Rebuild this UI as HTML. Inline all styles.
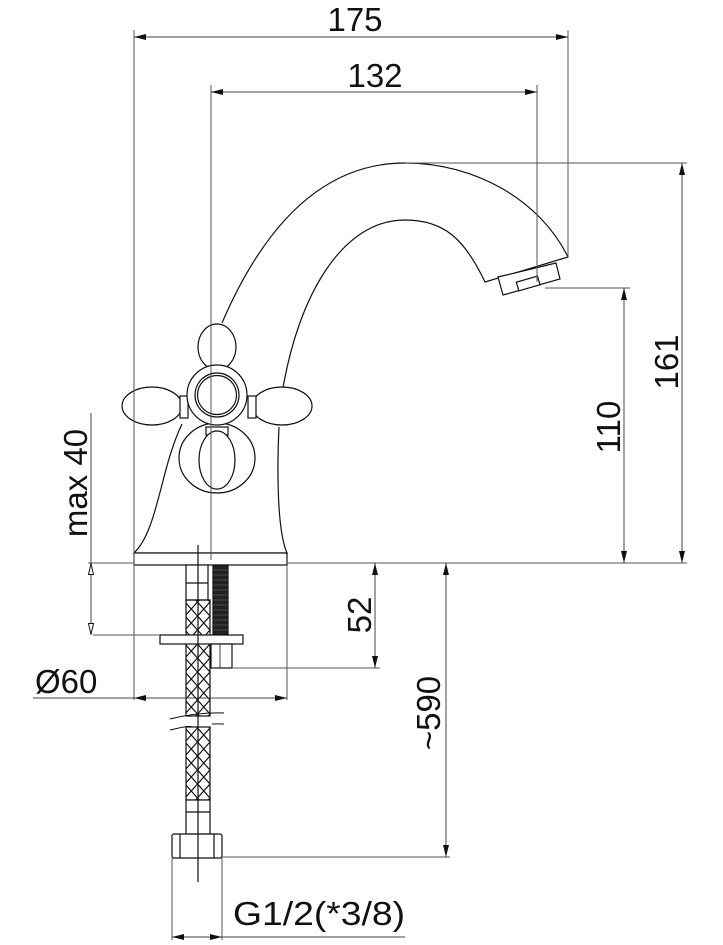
<!DOCTYPE html>
<html><head><meta charset="utf-8"><style>
html,body{margin:0;padding:0;background:#fff}
svg{display:block}
text{font-family:"Liberation Sans",Arial,sans-serif;fill:#111}
</style></head><body>
<svg width="723" height="945" viewBox="0 0 723 945" xmlns="http://www.w3.org/2000/svg">
<defs>
<pattern id="braid" x="185" y="0" width="12.5" height="14" patternUnits="userSpaceOnUse">
<path d="M0 0 L12.5 14 M12.5 0 L0 14" stroke="#111" stroke-width="1.2"/>
</pattern>
<marker id="a" viewBox="0 0 12 6" refX="12" refY="3" markerWidth="12" markerHeight="6" markerUnits="userSpaceOnUse" orient="auto-start-reverse"><path d="M0 0 L12 3 L0 6z" fill="#111"/></marker>
<marker id="o" viewBox="0 0 12 6" refX="12" refY="3" markerWidth="12" markerHeight="6" markerUnits="userSpaceOnUse" orient="auto-start-reverse"><path d="M0.5 0.5 L11.5 3 L0.5 5.5z" fill="#fff" stroke="#111" stroke-width="1"/></marker>
</defs>

<!-- faucet body -->
<g stroke="#111" stroke-width="1.2" fill="#fff">
<path d="M222 323 C262 230 320 163 405 163 C475 163 540 200 568 257 L485 282 C465 240 445 220 405 220 C340 220 298 300 283 388"/>
<path d="M498 277 L503 295 L560 279 L556 263 Z"/>
<rect x="517" y="279" width="22" height="9" transform="rotate(-16 528 283)"/>
<path d="M182 424 C160 470 158 530 134 553 L287 553 C277 530 277 470 279 427"/>
<rect x="134" y="553" width="153" height="12"/>
<ellipse cx="217" cy="458" rx="38" ry="35"/>
<ellipse cx="217" cy="347" rx="19" ry="23"/>
<ellipse cx="152" cy="406" rx="30" ry="19"/>
<ellipse cx="282" cy="406" rx="30" ry="19"/>
<rect x="180" y="396" width="8" height="22"/>
<rect x="248" y="396" width="8" height="22"/>
<rect x="207" y="369" width="22" height="8"/>
<circle cx="217" cy="395" r="30"/>
<circle cx="217" cy="395" r="22"/>
<circle cx="217" cy="395" r="19.5"/>
<rect x="206" y="427" width="22" height="8"/>
<ellipse cx="217" cy="460" rx="18" ry="29"/>
</g>

<!-- hose & fittings -->
<g stroke="#111" stroke-width="1.2">
<rect x="213" y="565" width="15" height="70" fill="#222"/>
<g stroke="#777" stroke-width="0.6">
<path d="M213 570H228M213 575H228M213 580H228M213 585H228M213 590H228M213 595H228M213 600H228M213 605H228M213 610H228M213 615H228M213 620H228M213 625H228M213 630H228"/>
</g>
<rect x="186" y="565" width="22" height="35" fill="#fff"/>
<line x1="186" y1="583" x2="208" y2="583"/>
<rect x="186" y="600" width="24" height="116" fill="url(#braid)"/>
<rect x="186" y="727" width="24" height="73" fill="url(#braid)"/>
<rect x="160" y="635" width="83" height="9" fill="#fff"/>
<rect x="211" y="644" width="21" height="24" fill="#fff"/>
<line x1="220" y1="644" x2="220" y2="668" stroke-width="0.8"/>
<rect x="186" y="800" width="24" height="34" fill="#fff"/>
<line x1="186" y1="812" x2="210" y2="812"/>
<rect x="172" y="834" width="50" height="24" rx="2" fill="#fff"/>
<line x1="180" y1="834" x2="180" y2="858"/>
<line x1="214" y1="834" x2="214" y2="858"/>
<path d="M170 719 Q198 712 224 713" fill="none" stroke-width="1"/>
<path d="M170 730 Q198 723 224 724" fill="none" stroke-width="1"/>
<rect x="184" y="718" width="28" height="8" fill="#fff" stroke="none"/>
</g>

<g stroke="#555" stroke-width="1" fill="none">
<!-- extension lines -->
<line x1="134" y1="30" x2="134" y2="700"/>
<line x1="568" y1="30" x2="568" y2="257"/>
<line x1="211" y1="85" x2="211" y2="560"/>
<line x1="537" y1="85" x2="537" y2="282"/>
<line x1="405" y1="163" x2="687" y2="163"/>
<line x1="545" y1="288" x2="630" y2="288"/>
<line x1="287" y1="563" x2="687" y2="563"/>
<line x1="88" y1="563" x2="134" y2="563"/>
<line x1="93" y1="635" x2="160" y2="635"/>
<line x1="232" y1="668" x2="380" y2="668"/>
<line x1="222" y1="857" x2="450" y2="857"/>
<line x1="287" y1="565" x2="287" y2="700"/>
<line x1="172" y1="858" x2="172" y2="940"/>
<line x1="222" y1="858" x2="222" y2="940"/>
</g>
<g stroke="#444" stroke-width="1" fill="none">
<line x1="134" y1="37" x2="568" y2="37" marker-start="url(#a)" marker-end="url(#a)"/>
<line x1="211" y1="92" x2="537" y2="92" marker-start="url(#a)" marker-end="url(#a)"/>
<line x1="682" y1="163" x2="682" y2="563" marker-start="url(#a)" marker-end="url(#a)"/>
<line x1="624" y1="288" x2="624" y2="563" marker-start="url(#a)" marker-end="url(#a)"/>
<line x1="375" y1="563" x2="375" y2="668" marker-start="url(#a)" marker-end="url(#a)"/>
<line x1="446" y1="563" x2="446" y2="857" marker-start="url(#a)" marker-end="url(#a)"/>
<line x1="91" y1="413" x2="91" y2="563"/>
<line x1="91" y1="563" x2="91" y2="635" marker-start="url(#o)" marker-end="url(#o)"/>
<line x1="33" y1="698" x2="134" y2="698"/>
<line x1="134" y1="698" x2="287" y2="698" marker-start="url(#a)" marker-end="url(#a)"/>
<line x1="172" y1="937" x2="222" y2="937" marker-start="url(#a)" marker-end="url(#a)"/>
<line x1="222" y1="937" x2="405" y2="937"/>
</g>

<!-- centre line -->
<line x1="198" y1="545" x2="198" y2="882" stroke="#111" stroke-width="1.2"/>

<!-- labels -->
<text x="355" y="31" font-size="33" text-anchor="middle">175</text>
<text x="375" y="87" font-size="33" text-anchor="middle">132</text>
<text transform="translate(678,362) rotate(-90)" font-size="33" text-anchor="middle">161</text>
<text transform="translate(620,427) rotate(-90)" font-size="33" text-anchor="middle">110</text>
<text transform="translate(87,483) rotate(-90)" font-size="33" text-anchor="middle">max 40</text>
<text transform="translate(371,615) rotate(-90)" font-size="33" text-anchor="middle">52</text>
<text transform="translate(440,713) rotate(-90)" font-size="33" text-anchor="middle">~590</text>
<text x="35" y="693" font-size="33">Ø60</text>
<text x="233" y="925" font-size="33" textLength="172" lengthAdjust="spacingAndGlyphs">G1/2(*3/8)</text>
</svg>
</body></html>
